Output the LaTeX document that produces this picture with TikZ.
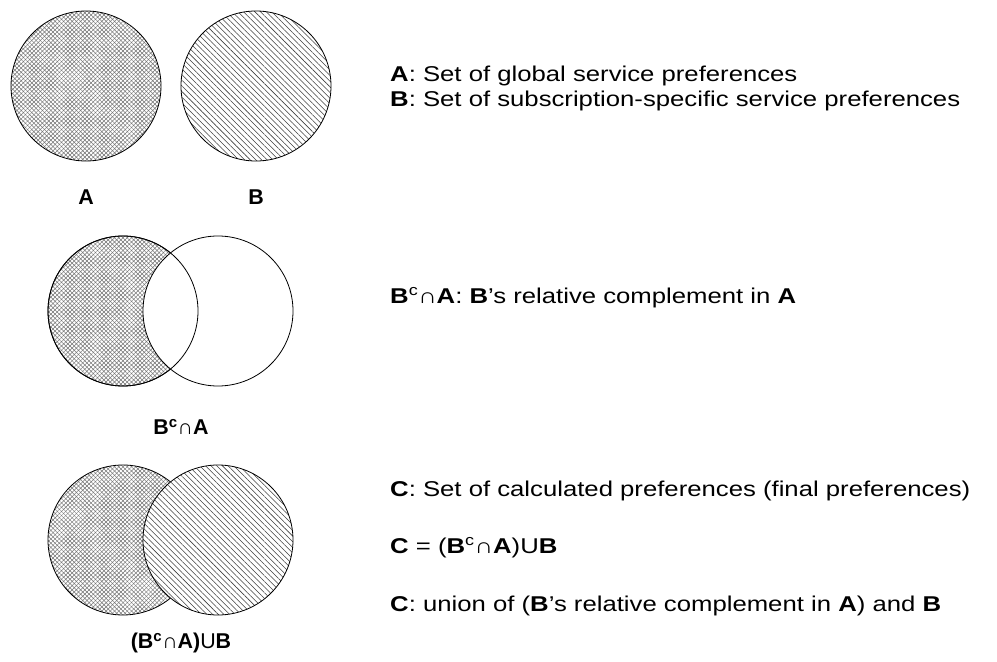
\documentclass[tikz,border=0pt]{standalone}
\usepackage{fontspec}
\setmainfont{Liberation Sans}
\newfontfamily\legendfont[FakeStretch=1.2]{Liberation Sans}
\usetikzlibrary{patterns.meta}

\newcommand{\cmpl}[1]{\textbf{#1}\textsuperscript{c}}

\begin{document}
\begin{tikzpicture}[x=1bp, y=-1bp,
    setbase/.style={draw, circle, inner sep=0pt, minimum size=150bp, line width=0.8bp},
    setA/.style={setbase, preaction={fill=white},
      preaction={pattern={Lines[angle=45,distance=3bp,line width=0.5bp]}, pattern color=black!55},
      pattern={Lines[angle=-45,distance=3bp,line width=0.5bp]}, pattern color=black!55},
    setB/.style={setbase, preaction={fill=white},
      pattern={Lines[angle=-45,distance=4bp,line width=0.55bp]}, pattern color=black!75},
    setE/.style={setbase, fill=white},
    txt/.style={anchor=base west, inner sep=0pt, font=\legendfont\fontsize{21.5}{24}\selectfont},
    lab/.style={inner sep=0pt, font=\fontsize{21.5}{24}\selectfont\bfseries}]
  \useasboundingbox (0,0) rectangle (997,662);
  \def\radius{75}

  % row 1: the two sets
  \node[setA] (A1) at (86,86) {};
  \node[setB] (B1) at (256,86) {};
  \node[lab] (lA1) at (86,197) {A};
  \node[lab] (lB1) at (256,197) {B};

  % row 2: relative complement
  \node[setA] (A2) at (123,311) {};
  \node[setE] (B2) at (218,311) {};
  \draw[line width=0.8bp] (A2.center) circle[radius=\radius];
  \node[lab] (l2) at (181,427) {\cmpl{B}\textmd{∩}A};

  % row 3: union
  \node[setA] (A3) at (123,540) {};
  \node[setB] (B3) at (218,540) {};
  \node[lab] (l3) at (181,643) {(\cmpl{B}\textmd{∩}A)\textmd{U}B};

  % legend texts
  \node[txt] (tA) at (390,82) {\textbf{A}: Set of global service preferences};
  \node[txt] (tB) at (390,107) {\textbf{B}: Set of subscription-specific service preferences};
  \node[txt] (tBA) at (390,303) {\cmpl{B}∩\textbf{A}: \textbf{B}’s relative complement in \textbf{A}};
  \node[txt] (tC) at (390,496) {\textbf{C}: Set of calculated preferences (final preferences)};
  \node[txt] (tCe) at (390,553) {\textbf{C} = (\cmpl{B}∩\textbf{A})U\textbf{B}};
  \node[txt] (tCu) at (390,611) {\textbf{C}: union of (\textbf{B}’s relative complement in \textbf{A}) and \textbf{B}};
\end{tikzpicture}
\end{document}
